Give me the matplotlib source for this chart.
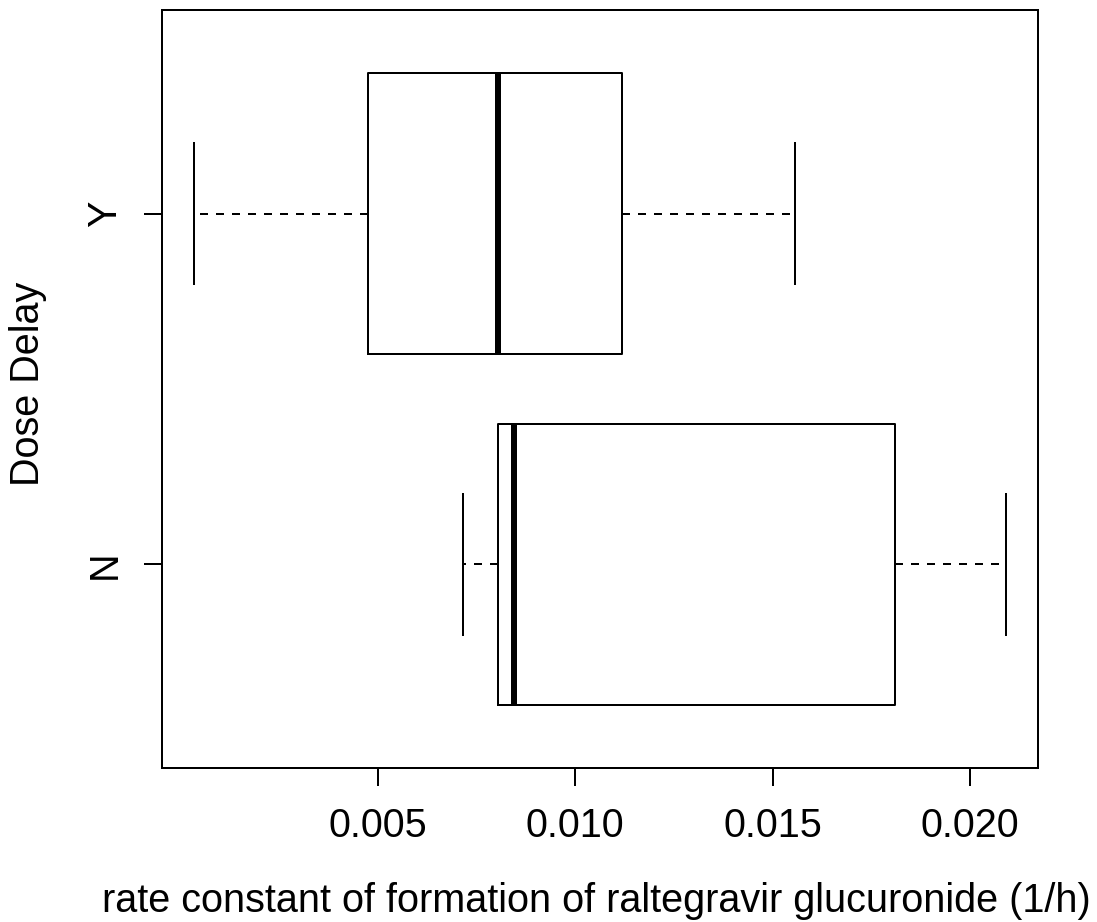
import numpy as np
from matplotlib import pyplot as plt

plt.rcParams['font.family'] = ['Liberation Sans', 'DejaVu Sans']

# box statistics
groups = ["N", "Y"]
whislo = [0.00716, 0.00033]
q1 = [0.00805, 0.00475]
med = [0.00845, 0.00805]
q3 = [0.01810, 0.01119]
whishi = [0.02091, 0.01558]

stats = []
for i in range(len(groups)):
	stats.append(dict(label=groups[i], whislo=whislo[i], q1=q1[i], med=med[i],
					  q3=q3[i], whishi=whishi[i], fliers=[]))

fig = plt.figure(figsize=(10.97, 9.22), dpi=100)
ax = fig.add_axes([161.5/1097, 1-768/922, 876.5/1097, 758/922])

lw = 1.44
ax.bxp(stats, positions=[1, 2], widths=0.8, capwidths=0.4, orientation='horizontal',
	   boxprops=dict(color='black', linewidth=lw),
	   whiskerprops=dict(color='black', linewidth=lw, linestyle=(0, (4, 4))),
	   capprops=dict(color='black', linewidth=lw),
	   medianprops=dict(color='black', linewidth=lw*3, solid_capstyle='butt'),
	   showfliers=False)

ax.set_xlim(-0.00049, 0.02173)
ax.set_ylim(0.42, 2.58)
ax.set_xticks([0.005, 0.010, 0.015, 0.020])
ax.set_xticklabels(["0.005", "0.010", "0.015", "0.020"])
ax.set_yticks([1, 2])
ax.set_yticklabels(groups, rotation=90, va='center')

for s in ax.spines.values():
	s.set_linewidth(lw)
ax.tick_params(axis='both', length=13, width=lw, labelsize=28.5, pad=15)
ax.tick_params(axis='y', pad=14)

ax.set_xlabel("rate constant of formation of raltegravir glucuronide (1/h)", fontsize=28.5, va='center')
ax.xaxis.set_label_coords(0.4957, -0.1755)
ax.set_ylabel("Dose Delay", fontsize=28.5, va='center')
ax.yaxis.set_label_coords(-0.152, 0.507)

plt.savefig("out.png")
